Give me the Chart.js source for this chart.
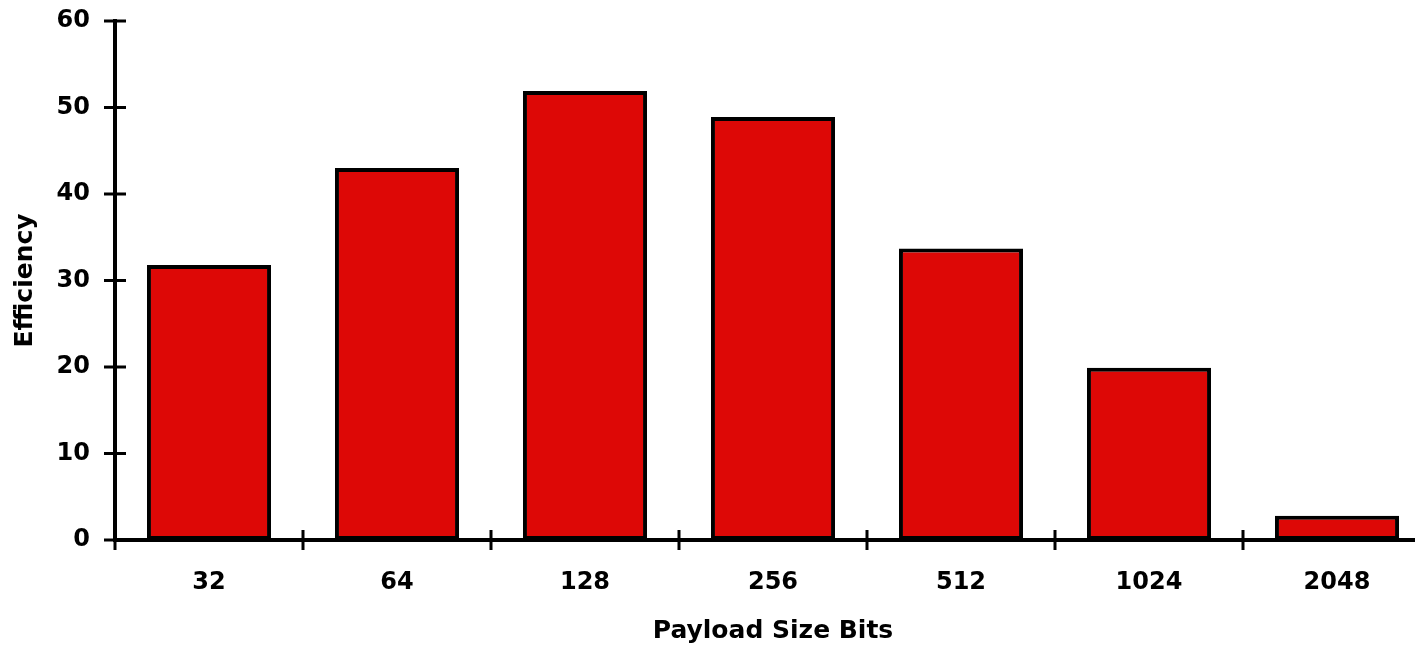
<!DOCTYPE html>
<html lang="en">
<head>
    <meta charset="UTF-8">
    <title>Payload Efficiency</title>
    <script src="https://cdn.jsdelivr.net/npm/chart.js"></script>
    <style>
        body {
            margin: 0;
            background: #fff;
            overflow: hidden;
        }
        .chart-container {
            position: relative;
            width: 1431px;
            height: 650px;
        }
    </style>
</head>
<body>
    <div class="chart-container">
        <canvas id="effChart"></canvas>
    </div>

    <script>
        // data
        const payloadSizes = ['32', '64', '128', '256', '512', '1024', '2048'];
        const efficiency = [31.8, 43.0, 51.9, 48.9, 33.7, 19.9, 2.8];
        const yTicks = [0, 10, 20, 30, 40, 50, 60];

        const labelFont = { family: 'DejaVu Sans', weight: 'bold', size: 24 };
        const titleFont = { family: 'DejaVu Sans', weight: 'bold', size: 25 };

        // tick marks that cross the axis lines, like the old Mac chart
        const crossTicks = {
            id: 'crossTicks',
            afterDraw(chart) {
                const { ctx, scales: { x, y }, chartArea } = chart;
                ctx.save();
                ctx.strokeStyle = '#000';
                ctx.lineWidth = 3;
                ctx.beginPath();
                yTicks.forEach(v => {
                    const py = y.getPixelForValue(v);
                    ctx.moveTo(chartArea.left - 11, py);
                    ctx.lineTo(chartArea.left + 11, py);
                });
                const half = (x.getPixelForValue(1) - x.getPixelForValue(0)) / 2;
                for (let i = 0; i < payloadSizes.length; i++) {
                    const px = x.getPixelForValue(i) - half;
                    ctx.moveTo(px, chartArea.bottom - 10);
                    ctx.lineTo(px, chartArea.bottom + 10);
                }
                ctx.stroke();
                ctx.restore();
            }
        };

        const ctx = document.getElementById('effChart').getContext('2d');
        const effChart = new Chart(ctx, {
            type: 'bar',
            data: {
                labels: payloadSizes,
                datasets: [{
                    label: 'Efficiency',
                    data: efficiency,
                    backgroundColor: '#dd0806',
                    borderColor: '#000',
                    borderWidth: 4,
                    borderSkipped: false,
                    barPercentage: 0.66,
                    categoryPercentage: 1
                }]
            },
            options: {
                responsive: true,
                maintainAspectRatio: false,
                animation: false,
                layout: {
                    padding: { top: 21, right: 0, left: 0, bottom: 0 }
                },
                plugins: {
                    legend: { display: false },
                    tooltip: { enabled: false }
                },
                scales: {
                    x: {
                        grid: { display: false, drawTicks: false },
                        border: { color: '#000', width: 4 },
                        ticks: {
                            color: '#000',
                            font: labelFont,
                            padding: 28,
                            maxRotation: 0
                        },
                        title: {
                            display: true,
                            text: 'Payload Size Bits',
                            color: '#000',
                            font: titleFont,
                            padding: { top: 0, bottom: 4 }
                        },
                        afterFit(scale) {
                            scale.height = 110;
                            scale.paddingLeft = 0;
                            scale.paddingRight = 0;
                        }
                    },
                    y: {
                        min: 0,
                        max: 60,
                        afterBuildTicks(scale) {
                            scale.ticks = yTicks.map(v => ({ value: v }));
                        },
                        grid: { display: false, drawTicks: false },
                        border: { color: '#000', width: 4 },
                        ticks: {
                            color: '#000',
                            font: labelFont,
                            padding: 25
                        },
                        title: {
                            display: true,
                            text: 'Efficiency',
                            color: '#000',
                            font: titleFont,
                            padding: { top: 10, bottom: 0 }
                        },
                        afterFit(scale) {
                            scale.width = 115;
                            scale.paddingTop = 0;
                            scale.paddingBottom = 0;
                        }
                    }
                }
            },
            plugins: [crossTicks]
        });
    </script>
</body>
</html>
